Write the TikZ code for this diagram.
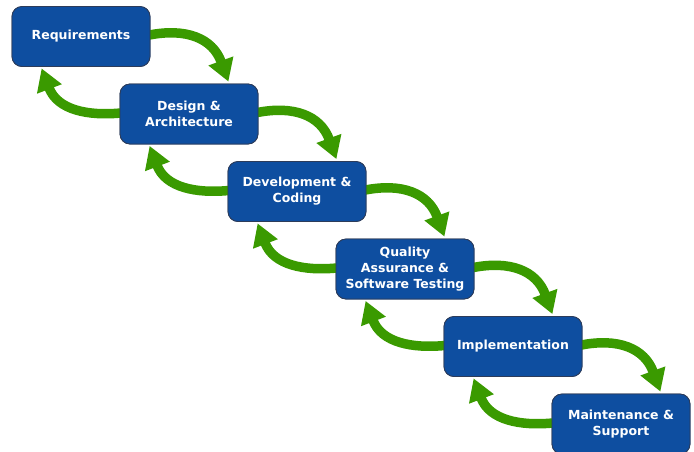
\documentclass[tikz,border=0pt]{standalone}
\usepackage{fontspec}
\setmainfont{DejaVu Sans}
\usetikzlibrary{arrows.meta,calc}
\definecolor{boxblue}{RGB}{14,78,160}
\definecolor{boxline}{RGB}{45,60,90}
\definecolor{flowgreen}{RGB}{58,154,0}
\tikzset{
  phase/.style={draw=boxline, line width=0.8pt, fill=boxblue, rounded corners=10pt,
    minimum width=138pt, minimum height=60pt, inner sep=2pt, align=center,
    text=white, font=\bfseries\fontsize{12.5}{16}\selectfont},
  flow/.style={draw=flowgreen, line width=9.5pt,
    -{Triangle[length=22pt,width=25pt]}}
}
\begin{document}
\begin{tikzpicture}[x=1pt,y=-1pt]
\useasboundingbox (0,0) rectangle (694,451);
\node[phase] (n1) at (81,36.5) {Requirements};
\node[phase] (n2) at (189,114) {Design \&\\Architecture};
\node[phase] (n3) at (297,191.5) {Development \&\\Coding};
\node[phase] (n4) at (405,269) {Quality\\Assurance \&\\Software Testing};
\node[phase] (n5) at (513,346.5) {Implementation};
\node[phase] (n6) at (621,424) {Maintenance \&\\Support};
\foreach \a/\b in {n1/n2,n2/n3,n3/n4,n4/n5,n5/n6}{
  \coordinate (fs-\a) at ($(\a.east)+(-1,-1.5)$);
  \coordinate (ft-\a) at ($(\b.north east)+(-30,-2)$);
  \coordinate (bs-\a) at ($(\b.west)+(1,-1)$);
  \coordinate (bt-\a) at ($(\a.south west)+(30,1.5)$);
  \draw[flow] (fs-\a) .. controls ($(fs-\a)+(36,-7)$) and ($(ft-\a)+(-16,-44)$) .. (ft-\a);
  \draw[flow] (bs-\a) .. controls ($(bs-\a)+(-32,3)$) and ($(bt-\a)+(16,42)$) .. (bt-\a);
}
\node[phase] at (n1) {Requirements};
\node[phase] at (n2) {Design \&\\Architecture};
\node[phase] at (n3) {Development \&\\Coding};
\node[phase] at (n4) {Quality\\Assurance \&\\Software Testing};
\node[phase] at (n5) {Implementation};
\node[phase] at (n6) {Maintenance \&\\Support};
\end{tikzpicture}
\end{document}
